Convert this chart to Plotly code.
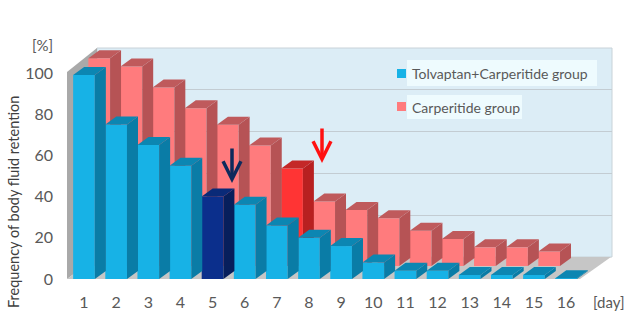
import plotly.graph_objects as go

# ---------------- data ----------------
days = list(range(1, 17))
day_labels = [str(d) for d in days]
tolvaptan_carperitide = [99, 75, 65, 55, 40, 36, 26, 20, 16, 8, 4, 4, 2, 2, 2, 0.4]
carperitide = [100, 96, 86, 76, 68, 58, 47, 31, 27, 23, 17, 13, 9, 9, 7, 0]
y_ticks = [0, 20, 40, 60, 80, 100]
y_tick_labels = [str(v) for v in y_ticks]
series_names = ["Tolvaptan+Carperitide group", "Carperitide group"]
highlight_tc_day = 5
highlight_c_day = 7

# ---------------- geometry (pixels) ----------------
W, H = 640, 329
def px(x): return x / W
def py(y): return 1 - y / H

STEP = 32.14           # px per category
BAR_W = 0.675          # bar width in category units
DEPTH_X, DEPTH_Y = 11, 8  # extrusion in px

# front (blue) axis frame
F = dict(left=67, right=600, c1=84, floor=279, ppu=2.06, top=40)
# back (pink) axis frame, shifted back in depth
B = dict(left=82, right=615, c1=99.2, floor=266, ppu=2.077, top=30)

BLUE = dict(front="#17b2e6", side="#0a7ca6", top="#0c86b2",
            hi_front="#0b2f8c", hi_side="#071f5c", hi_top="#0a2a78")
PINK = dict(front="#ff7b7d", side="#b65355", top="#bf5a5c",
            hi_front="#ff3434", hi_side="#b82020", hi_top="#c42828")


def axis_setup(fr):
    xr = [1 - (fr["c1"] - fr["left"]) / STEP, 1 + (fr["right"] - fr["c1"]) / STEP]
    yr = [0, (fr["floor"] - fr["top"]) / fr["ppu"]]
    xd = [px(fr["left"]), px(fr["right"])]
    yd = [py(fr["floor"]), py(fr["top"])]
    return xr, yr, xd, yd


fig = go.Figure()

# wall subplot (xy) just for gridlines
fig.add_trace(go.Scatter(x=[0], y=[0], mode="markers", marker=dict(opacity=0),
                         showlegend=False, hoverinfo="skip", xaxis="x", yaxis="y"))


def add_series(values, xa, ya, fr, pal, hi_day, name):
    dx = DEPTH_X / STEP
    dy = DEPTH_Y / fr["ppu"]
    hw = BAR_W / 2
    for d, v in zip(days, values):
        if d == hi_day:
            sc, tc = pal["hi_side"], pal["hi_top"]
        else:
            sc, tc = pal["side"], pal["top"]
        if v <= 0:
            continue
        # side face
        fig.add_trace(go.Scatter(
            x=[d + hw, d + hw, d + hw + dx, d + hw + dx, d + hw],
            y=[0, v, v + dy, dy, 0], fill="toself", fillcolor=sc, mode="lines",
            line=dict(width=0, color=sc), showlegend=False, hoverinfo="skip",
            xaxis=xa, yaxis=ya))
        # top face
        fig.add_trace(go.Scatter(
            x=[d - hw, d + hw, d + hw + dx, d - hw + dx, d - hw],
            y=[v, v, v + dy, v + dy, v], fill="toself", fillcolor=tc, mode="lines",
            line=dict(width=0, color=tc), showlegend=False, hoverinfo="skip",
            xaxis=xa, yaxis=ya))
    colors = [pal["hi_front"] if d == hi_day else pal["front"] for d in days]
    fig.add_trace(go.Bar(
        x=days, y=values, width=BAR_W, marker=dict(color=colors, line=dict(width=0)),
        name=name, showlegend=False, xaxis=xa, yaxis=ya, hoverinfo="x+y"))


# back series (pink) on x2/y2
add_series(carperitide, "x2", "y2", B, PINK, highlight_c_day, series_names[1])
# front series (blue) on x3/y3
add_series(tolvaptan_carperitide, "x3", "y3", F, BLUE, highlight_tc_day, series_names[0])

fxr, fyr, fxd, fyd = axis_setup(F)
bxr, byr, bxd, byd = axis_setup(B)

TICK_FONT = dict(family="Lato", size=16, color="#595959")

fig.update_layout(
    width=W, height=H,
    margin=dict(l=0, r=0, t=0, b=0, autoexpand=False),
    paper_bgcolor="white",
    plot_bgcolor="rgba(0,0,0,0)",
    font=dict(family="Lato", color="#595959"),
    showlegend=False,
    # wall
    xaxis=dict(domain=[px(97), px(612)], range=[0, 1], visible=False, fixedrange=True),
    yaxis=dict(domain=[py(257), py(48)], range=[0, 100], anchor="x", tickvals=y_ticks,
               showgrid=True, gridcolor="#c3ccd2", gridwidth=1, zeroline=False,
               showticklabels=False, ticks="", showline=False, fixedrange=True),
    # back
    xaxis2=dict(domain=bxd, range=bxr, anchor="y2", visible=False, fixedrange=True),
    yaxis2=dict(domain=byd, range=byr, anchor="x2", visible=False, fixedrange=True),
    # front
    xaxis3=dict(domain=fxd, range=fxr, anchor="y3", tickvals=days, ticktext=day_labels,
                ticks="", showgrid=False, zeroline=False, showline=False,
                tickfont=TICK_FONT, ticklabelstandoff=12, fixedrange=True),
    yaxis3=dict(domain=fyd, range=fyr, anchor="x3", tickvals=y_ticks, ticktext=y_tick_labels,
                ticks="", showgrid=False, zeroline=False, showline=False,
                tickfont=TICK_FONT, ticklabelstandoff=13, fixedrange=True),
)

shapes = [
    # back wall
    dict(type="rect", xref="paper", yref="paper", x0=px(97), x1=px(612), y0=py(257), y1=py(48),
         fillcolor="#dcedf6", line=dict(color="#c8d2d8", width=1), layer="below"),
    # left wall
    dict(type="path", xref="paper", yref="paper",
         path=f"M {px(67)} {py(72)} L {px(97)} {py(48)} L {px(97)} {py(257)} L {px(67)} {py(279)} Z",
         fillcolor="#a9a9a9", line=dict(width=0), layer="below"),
    # floor
    dict(type="path", xref="paper", yref="paper",
         path=f"M {px(67)} {py(279)} L {px(97)} {py(257)} L {px(611)} {py(257)} L {px(580)} {py(279)} Z",
         fillcolor="#c6c6c6", line=dict(width=0), layer="below"),
    # legend text backgrounds
    dict(type="rect", xref="paper", yref="paper", x0=px(407), x1=px(597), y0=py(86), y1=py(60),
         fillcolor="#eefbfe", line=dict(width=0), layer="below"),
    dict(type="rect", xref="paper", yref="paper", x0=px(407), x1=px(522), y0=py(119), y1=py(95),
         fillcolor="#eefbfe", line=dict(width=0), layer="below"),
    # legend keys
    dict(type="rect", xref="paper", yref="paper", x0=px(397), x1=px(406), y0=py(78), y1=py(69),
         fillcolor=BLUE["front"], line=dict(width=0)),
    dict(type="rect", xref="paper", yref="paper", x0=px(397), x1=px(406), y0=py(111), y1=py(102),
         fillcolor=PINK["front"], line=dict(width=0)),
]
fig.update_layout(shapes=shapes)

LEG_FONT = dict(family="Lato", size=14, color="#595959")


def label(text, x, y, font, xanchor="center", angle=0):
    return dict(text=text, x=px(x), y=py(y), xref="paper", yref="paper",
                xanchor=xanchor, yanchor="middle", showarrow=False, font=font,
                textangle=angle)


annotations = [
    label(series_names[0], 410, 73, LEG_FONT, "left"),
    label(series_names[1], 410, 107, LEG_FONT, "left"),
    label("[%]", 42, 45, dict(family="Lato", size=15, color="#595959")),
    label("[day]", 609, 302, dict(family="Lato", size=15, color="#595959")),
    label("Frequency of body fluid retention", 13, 202,
          dict(family="Lato", size=14.5, color="#404040"), "center", -90),
    # arrows
    dict(text="", x=px(232), y=py(183), xref="paper", yref="paper", showarrow=True,
         ax=0, ay=-36, arrowhead=5, arrowsize=1, arrowwidth=3.5, arrowcolor="#0d2a5c",
         standoff=0, startstandoff=0),
    dict(text="", x=px(322), y=py(163), xref="paper", yref="paper", showarrow=True,
         ax=0, ay=-36, arrowhead=5, arrowsize=1, arrowwidth=3.5, arrowcolor="#ff1010",
         standoff=0, startstandoff=0),
]
fig.update_layout(annotations=annotations)

fig.write_html(
    "out.html",
    config={"displayModeBar": False},
    post_script="document.body.style.margin='0';"
                "document.documentElement.style.overflow='hidden';",
)
